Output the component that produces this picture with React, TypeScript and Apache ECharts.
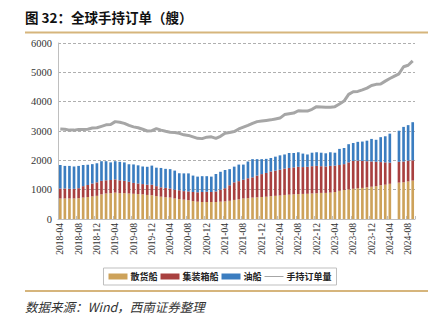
import React, { useEffect, useRef } from "react";
import * as echarts from "echarts";

const months = [
  "2018-04","2018-05","2018-06","2018-07","2018-08","2018-09","2018-10","2018-11","2018-12",
  "2019-01","2019-02","2019-03","2019-04","2019-05","2019-06","2019-07","2019-08","2019-09","2019-10","2019-11","2019-12",
  "2020-01","2020-02","2020-03","2020-04","2020-05","2020-06","2020-07","2020-08","2020-09","2020-10","2020-11","2020-12",
  "2021-01","2021-02","2021-03","2021-04","2021-05","2021-06","2021-07","2021-08","2021-09","2021-10","2021-11","2021-12",
  "2022-01","2022-02","2022-03","2022-04","2022-05","2022-06","2022-07","2022-08","2022-09","2022-10","2022-11","2022-12",
  "2023-01","2023-02","2023-03","2023-04","2023-05","2023-06","2023-07","2023-08","2023-09","2023-10","2023-11","2023-12",
  "2024-01","2024-02","2024-03","2024-04","2024-05","2024-06","2024-07","2024-08","2024-09",
];

const bulk = [
  700,700,700,700,710,730,750,770,790,840,
  870,880,900,880,880,870,860,850,840,820,
  810,780,760,740,730,700,680,660,640,610,
  590,580,580,580,580,590,600,620,650,670,
  700,710,730,740,750,760,780,790,800,820,
  830,840,850,855,860,870,875,890,890,900,
  920,960,990,1010,1030,1050,1060,1080,1100,1120,
  1150,1170,1200,null,1240,1250,1280,1310,
];

const container = [
  340,340,330,330,340,390,410,440,460,460,
  450,450,450,440,420,400,370,360,350,350,
  360,340,320,320,310,300,300,290,300,310,
  320,340,350,340,360,410,450,530,600,620,
  640,680,690,740,780,810,840,860,880,900,
  910,920,930,915,920,930,935,910,900,910,
  900,880,880,920,950,940,920,890,860,830,
  790,760,720,null,710,710,710,690,
];

const tanker = [
  800,770,780,760,760,720,690,660,650,670,
  650,600,620,630,630,600,630,620,600,610,
  650,630,660,650,660,650,580,605,615,560,
  535,540,530,525,595,610,620,550,535,565,
  515,570,620,560,510,480,460,475,490,480,
  510,490,495,460,420,460,465,460,450,465,
  440,550,550,620,610,640,660,700,770,750,
  850,890,990,null,1060,1180,1210,1300,
];

const orderbook = [
  3070,3060,3030,3030,3050,3050,3060,3100,3110,3160,
  3210,3220,3320,3300,3260,3190,3140,3110,3060,3000,
  3010,3080,3030,2990,2960,2950,2920,2870,2850,2800,
  2750,2740,2790,2800,2750,2820,2920,2950,2980,3070,
  3130,3190,3260,3320,3340,3360,3380,3410,3440,3560,
  3590,3610,3690,3680,3680,3740,3830,3820,3810,3810,
  3830,3920,4020,4250,4340,4350,4400,4460,4550,4590,
  4600,4700,4790,4870,4950,5190,5240,5390,
];

const seriesNames = ["散货船", "集装箱船", "油船", "手持订单量"];
const titleText = "图 32：全球手持订单（艘）";
const sourceText = "数据来源：Wind，西南证券整理";

export default function App() {
  const ref = useRef<HTMLDivElement>(null);
  useEffect(() => {
    if (!ref.current) return;
    const chart = echarts.init(ref.current, null, { renderer: "svg" });
    const serif = "Liberation Serif";
    const cjk = "Noto Sans CJK SC";
    const lineIcon = "path://M0,0h20v0.01h-20z M0,2.4h20v1.2h-20z M0,5.99h20v0.01h-20z";
    chart.setOption({
      animation: false,
      backgroundColor: "#ffffff",
      grid: { left: 58, right: 25, top: 43, bottom: 107, containLabel: false },
      legend: {
        top: 268,
        left: "center",
        data: [
          { name: seriesNames[0], icon: "rect" },
          { name: seriesNames[1], icon: "rect" },
          { name: seriesNames[2], icon: "rect" },
          { name: seriesNames[3], icon: lineIcon, itemStyle: { color: "#A6A6A6" } },
        ],
        itemWidth: 19,
        itemHeight: 6,
        itemGap: 3,
        padding: [4, 5],
        borderColor: "#BFBFBF",
        borderWidth: 1,
        textStyle: { fontFamily: cjk, fontSize: 9, color: "#222", fontWeight: "bold", padding: [0, 0, 0, -2] },
      },
      xAxis: {
        type: "category",
        data: months,
        boundaryGap: true,
        axisLine: { lineStyle: { color: "#BFBFBF", width: 1 } },
        axisTick: { show: true, inside: true, interval: 3, length: 3, lineStyle: { color: "#BFBFBF" } },
        axisLabel: {
          interval: 3,
          rotate: 90,
          fontFamily: serif,
          fontSize: 9.5,
          color: "#333",
          margin: 4,
        },
      },
      yAxis: {
        type: "value",
        min: 0,
        max: 6000,
        interval: 1000,
        axisLine: { show: true, lineStyle: { color: "#BFBFBF" } },
        axisTick: { show: false },
        axisLabel: {
          fontFamily: serif,
          fontSize: 10.5,
          color: "#333",
          margin: 6,
          formatter: (v: number) => String(v),
        },
        splitLine: { lineStyle: { color: "#AFAFAF", type: [3, 2], width: 1 } },
      },
      series: [
        {
          name: seriesNames[0],
          type: "bar",
          stack: "a",
          data: bulk,
          barWidth: "58%",
          itemStyle: { color: "#CDA25A" },
        },
        {
          name: seriesNames[1],
          type: "bar",
          stack: "a",
          data: container,
          barWidth: "58%",
          itemStyle: { color: "#A8403F" },
        },
        {
          name: seriesNames[2],
          type: "bar",
          stack: "a",
          data: tanker,
          barWidth: "58%",
          itemStyle: { color: "#3B7DC0" },
        },
        {
          name: seriesNames[3],
          type: "line",
          data: orderbook,
          symbol: "none",
          connectNulls: true,
          z: 5,
          lineStyle: { color: "#A6A6A6", width: 3 },
          itemStyle: { color: "#A6A6A6" },
        },
      ],
      graphic: [
        {
          type: "text",
          left: 25,
          top: 10,
          style: { text: titleText, font: `bold 13.5px "${cjk}"`, fill: "#111" },
        },
        {
          type: "line",
          shape: { x1: 25, y1: 32.5, x2: 428, y2: 32.5 },
          style: { stroke: "#D6B57C", lineWidth: 2 },
        },
        {
          type: "line",
          shape: { x1: 25, y1: 291, x2: 428, y2: 291 },
          style: { stroke: "#D6B57C", lineWidth: 2 },
        },
        {
          type: "text",
          left: 25,
          top: 300,
          style: { text: sourceText, font: `italic 12.5px "${cjk}"`, fill: "#333" },
        },
      ],
    });
    return () => chart.dispose();
  }, []);
  return (
    <div
      ref={ref}
      style={{ position: "absolute", left: 0, top: 0, width: 440, height: 326, background: "#fff" }}
    />
  );
}
